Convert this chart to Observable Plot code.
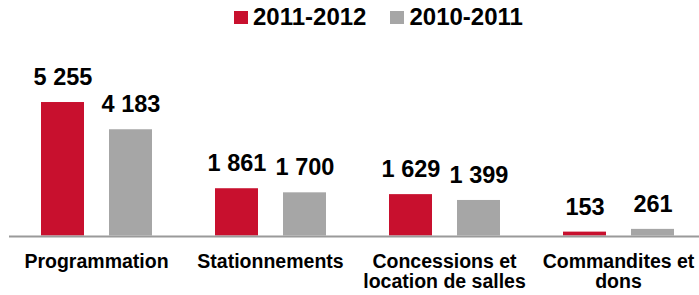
<!DOCTYPE html>
<html>
<head>
<meta charset="utf-8">
<script src="https://cdn.jsdelivr.net/npm/d3@7"></script>
<script src="https://cdn.jsdelivr.net/npm/@observablehq/plot@0.6"></script>
<style>
  html, body { margin: 0; padding: 0; background: #fff; }
  #wrap { position: relative; width: 699px; height: 295px; overflow: hidden; font-family: "Liberation Sans", Arial, sans-serif; }
  #legend { position: absolute; top: 3px; left: 234px; display: flex; font-weight: bold; font-size: 24px; color: #000; white-space: nowrap; }
  .item { display: flex; align-items: center; margin-right: 24px; }
  .sw { width: 14px; height: 13px; margin-right: 5px; margin-top: 1px; }
  svg { position: absolute; top: 0; left: 0; }
</style>
</head>
<body>
<div id="wrap"><div id="legend"></div></div>
<script>
const categories = ["Programmation", "Stationnements", "Concessions et\nlocation de salles", "Commandites et\ndons"];
const seriesNames = ["2011-2012", "2010-2011"];
const values2011_2012 = [5255, 1861, 1629, 153];
const values2010_2011 = [4183, 1700, 1399, 261];
const colors = ["#C8102E", "#A6A6A6"];

const data = [];
categories.forEach((c, i) => {
  data.push({category: c, series: seriesNames[0], value: values2011_2012[i]});
  data.push({category: c, series: seriesNames[1], value: values2010_2011[i]});
});

const fmt = v => d3.format(",")(v).replace(/,/g, " ");

const legend = document.getElementById("legend");
seriesNames.forEach((s, i) => {
  const it = document.createElement("div");
  it.className = "item";
  const sw = document.createElement("div");
  sw.className = "sw";
  sw.style.background = colors[i];
  const t = document.createElement("span");
  t.textContent = s;
  it.appendChild(sw); it.appendChild(t);
  legend.appendChild(it);
});

const chart = Plot.plot({
  width: 699,
  height: 295,
  marginTop: 40,
  marginBottom: 59.5,
  marginLeft: 7,
  marginRight: 0,
  style: {fontFamily: "Liberation Sans, Arial, sans-serif", background: "transparent"},
  fx: {domain: categories, range: [7, 706], padding: 0, label: null},
  x: {domain: seriesNames, paddingInner: 0.37, paddingOuter: 0.451, axis: null},
  y: {domain: [0, 6000], range: [235.5, 83.1], axis: null},
  color: {domain: seriesNames, range: colors},
  marks: [
    Plot.barY(data, {fx: "category", x: "series", y: "value", fill: "series"}),
    Plot.text(data, {fx: "category", x: "series", y: "value", text: d => fmt(d.value), lineAnchor: "bottom", dy: -17.5, fontSize: 23.5, fontWeight: "bold", fill: "#000"}),
    Plot.ruleY([0], {stroke: "#9a9a9a", strokeWidth: 2, dy: 0.5}),
    Plot.axisFx({anchor: "bottom", tickSize: 0, tickPadding: 17.5, fontSize: 19.5, fontWeight: "bold", label: null, lineHeight: 1.03, fill: "#000"})
  ]
});
document.getElementById("wrap").appendChild(chart);
</script>
</body>
</html>
